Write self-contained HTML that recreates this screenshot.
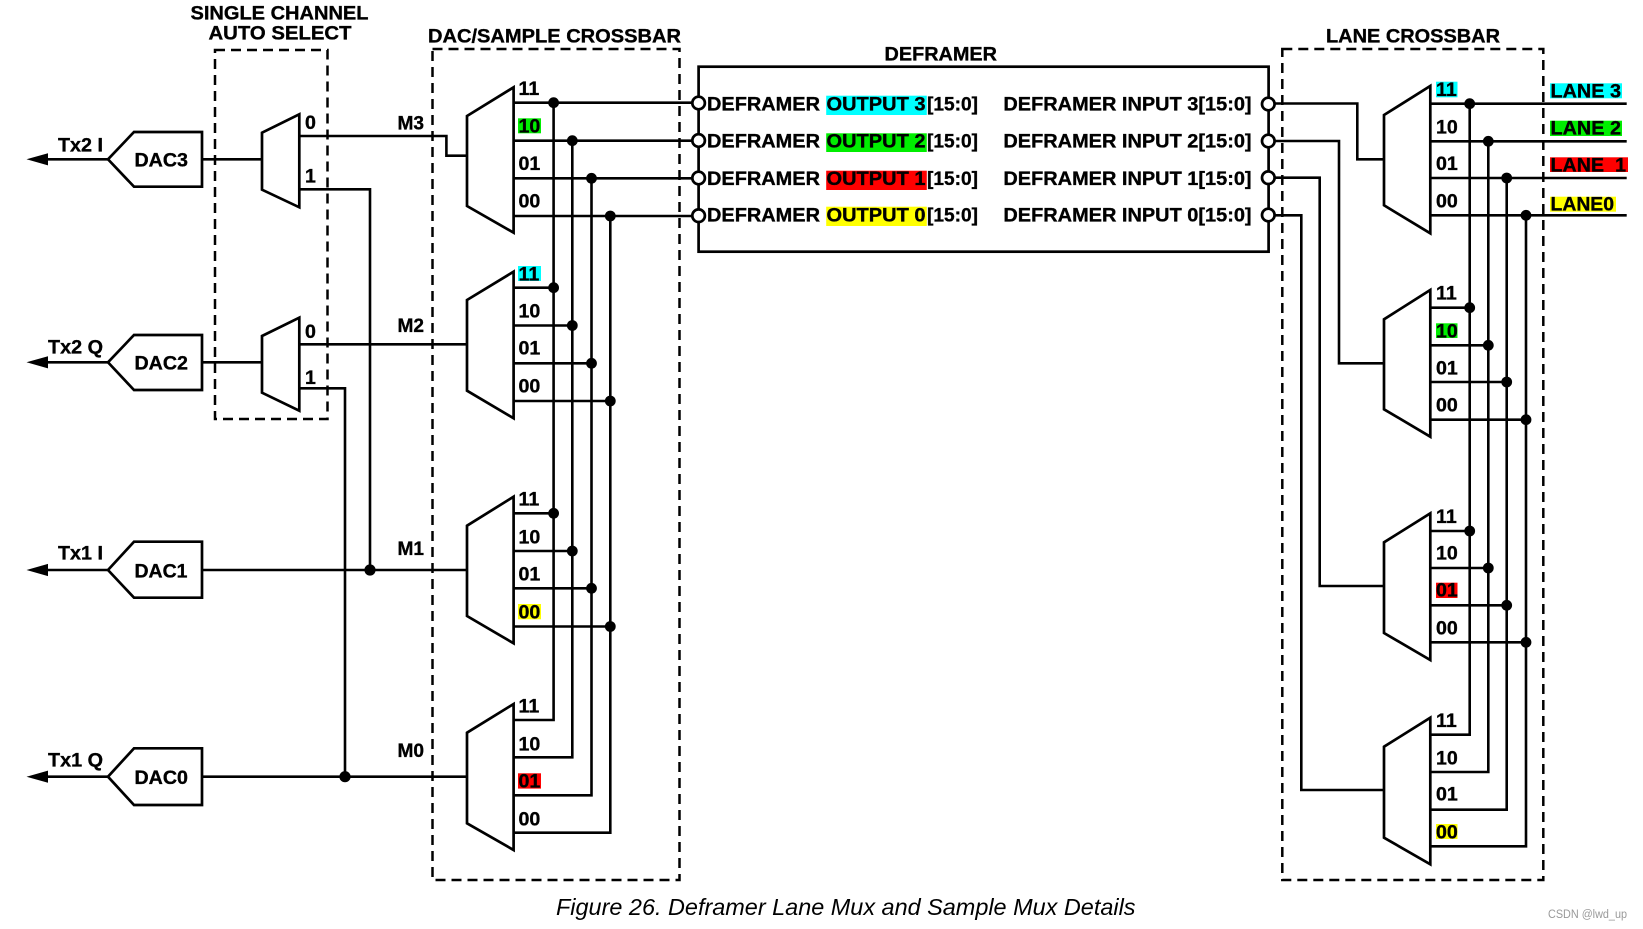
<!DOCTYPE html>
<html><head><meta charset="utf-8"><style>
html,body{margin:0;padding:0;background:#fff;width:1643px;height:929px;overflow:hidden}
svg{display:block}
text{font-family:"Liberation Sans",sans-serif;font-weight:bold;font-size:19.6px;fill:#000;stroke:#000;stroke-width:.35}
.w{fill:none;stroke:#000;stroke-width:2.6}
.m{fill:#fff;stroke:#000;stroke-width:2.7}
.d{fill:none;stroke:#000;stroke-width:2.5;stroke-dasharray:10 6}
.p{fill:#fff;stroke:#000;stroke-width:2.7}
.cap{font-weight:normal;font-style:italic;font-size:23.5px;stroke:none}
.wm{font-weight:normal;font-size:11.5px;fill:#999;stroke:none}
.c{fill:#00ffff}.g{fill:#00ee00}.r{fill:#ff0000}.y{fill:#ffff00}
</style></head><body>
<svg width="1643" height="929" viewBox="0 0 1643 929" xmlns="http://www.w3.org/2000/svg">
<rect width="1643" height="929" fill="#fff"/>

<!-- dashed groups -->
<rect class="d" x="215" y="50" width="112.5" height="369"/>
<rect class="d" x="432.5" y="49" width="247" height="831"/>
<rect class="d" x="1282.3" y="49" width="261" height="831"/>

<!-- highlights -->
<rect class="g" x="518" y="118.3" width="23" height="15"/>
<rect class="c" x="518" y="266" width="23" height="15"/>
<rect class="y" x="518" y="604" width="23" height="15.3"/>
<rect class="r" x="518" y="773.3" width="23" height="15.3"/>
<rect class="c" x="1436" y="81.7" width="21.5" height="15.6"/>
<rect class="g" x="1436" y="323.3" width="21.5" height="14.7"/>
<rect class="r" x="1436" y="582.7" width="21.5" height="15.3"/>
<rect class="y" x="1436" y="824" width="21.5" height="15"/>
<rect class="c" x="1550" y="83.3" width="72" height="15"/>
<rect class="g" x="1550" y="120.7" width="72" height="15.3"/>
<rect class="r" x="1550" y="157.3" width="78" height="14.7"/>
<rect class="y" x="1550" y="196.7" width="66" height="15"/>

<!-- left wires -->
<path class="w" d="M48 159.3H108M202 159.3H262M48 362.3H108M202 362.3H262M48 570H108M202 570H467M48 776.7H108M202 776.7H467"/>
<path class="w" d="M299.3 136H446.4V155.7H467M299.3 189.3H370V570M299.3 344.3H467M299.3 388.3H345V776.7"/>

<!-- DAC crossbar wires -->
<path class="w" d="M513.6 102.7H692M513.6 140.7H692M513.6 178.3H692M513.6 216H692"/>
<path class="w" d="M513.6 287.7H553.6M513.6 325.5H572.3M513.6 363.3H591.5M513.6 401H610.3"/>
<path class="w" d="M513.6 513.3H553.6M513.6 551H572.3M513.6 588.3H591.5M513.6 626.5H610.3"/>
<path class="w" d="M553.6 102.7V720H513.6M572.3 140.7V757.3H513.6M591.5 178.3V795.3H513.6M610.3 216V832.7H513.6"/>

<!-- Lane crossbar wires -->
<path class="w" d="M1275 103.5H1357.3V159.3H1384M1275 141H1339V363.3H1384M1275 177.7H1319.7V586H1384M1275 215.3H1301.3V790H1384"/>
<path class="w" d="M1430.3 103.7H1626.7M1430.3 141.3H1626.7M1430.3 178H1626.7M1430.3 215.3H1626.7"/>
<path class="w" d="M1430.3 307.7H1469.7M1430.3 345.3H1488.3M1430.3 382H1506.7M1430.3 419.7H1526"/>
<path class="w" d="M1430.3 531H1469.7M1430.3 568H1488.3M1430.3 605.3H1506.7M1430.3 642.3H1526"/>
<path class="w" d="M1469.7 103.7V734.7H1430.3M1488.3 141.3V772H1430.3M1506.7 178V809.7H1430.3M1526 215.3V846.3H1430.3"/>

<!-- arrows -->
<path d="M26.5 159.3L48 153.2V165.4Z M26.5 362.3L48 356.2V368.4Z M26.5 570L48 563.9V576.1Z M26.5 776.7L48 770.6V782.8Z" fill="#000"/>

<!-- DAC pentagons -->
<path class="m" d="M108 159.3L134 132H202V186.7H134Z"/>
<path class="m" d="M108 362.3L134 335H202V390H134Z"/>
<path class="m" d="M108 570L134 541.7H202V597.7H134Z"/>
<path class="m" d="M108 776.7L134 748.3H202V805H134Z"/>

<!-- small muxes -->
<path class="m" d="M262 132.7L299.3 114.3V207.3L262 189.7Z"/>
<path class="m" d="M262 336L299.3 317.7V410.7L262 392.7Z"/>

<!-- DAC muxes -->
<path class="m" d="M467 116L513.6 87.3V232.7L467 206Z"/>
<path class="m" d="M467 300L513.6 271.7V418.3L467 390.7Z"/>
<path class="m" d="M467 525.7L513.6 496.7V643.3L467 616Z"/>
<path class="m" d="M467 732.7L513.6 704V850L467 823.3Z"/>

<!-- Lane muxes -->
<path class="m" d="M1384 115L1430.3 86V233.3L1384 205.3Z"/>
<path class="m" d="M1384 319.3L1430.3 290V436.7L1384 409.3Z"/>
<path class="m" d="M1384 542.3L1430.3 513.3V660L1384 633Z"/>
<path class="m" d="M1384 746.7L1430.3 717.7V864.3L1384 837.7Z"/>

<!-- dots -->
<g fill="#000">
<circle cx="370" cy="570" r="5.6"/><circle cx="345" cy="776.7" r="5.6"/>
<circle cx="553.6" cy="102.7" r="5.4"/><circle cx="572.3" cy="140.7" r="5.4"/><circle cx="591.5" cy="178.3" r="5.4"/><circle cx="610.3" cy="216" r="5.4"/>
<circle cx="553.6" cy="287.7" r="5.4"/><circle cx="572.3" cy="325.5" r="5.4"/><circle cx="591.5" cy="363.3" r="5.4"/><circle cx="610.3" cy="401" r="5.4"/>
<circle cx="553.6" cy="513.3" r="5.4"/><circle cx="572.3" cy="551" r="5.4"/><circle cx="591.5" cy="588.3" r="5.4"/><circle cx="610.3" cy="626.5" r="5.4"/>
<circle cx="1469.7" cy="103.7" r="5.4"/><circle cx="1488.3" cy="141.3" r="5.4"/><circle cx="1506.7" cy="178" r="5.4"/><circle cx="1526" cy="215.3" r="5.4"/>
<circle cx="1469.7" cy="307.7" r="5.4"/><circle cx="1488.3" cy="345.3" r="5.4"/><circle cx="1506.7" cy="382" r="5.4"/><circle cx="1526" cy="419.7" r="5.4"/>
<circle cx="1469.7" cy="531" r="5.4"/><circle cx="1488.3" cy="568" r="5.4"/><circle cx="1506.7" cy="605.3" r="5.4"/><circle cx="1526" cy="642.3" r="5.4"/>
</g>

<!-- deframer -->
<rect x="698.6" y="66.7" width="570" height="185" fill="#fff" stroke="#000" stroke-width="2.7"/>
<rect class="c" x="826.2" y="95.7" width="100.6" height="19.3"/>
<rect class="g" x="826.2" y="133.3" width="100.6" height="18.7"/>
<rect class="r" x="826.2" y="170.7" width="100.6" height="19.3"/>
<rect class="y" x="826.2" y="206.7" width="100.6" height="19.3"/>
<circle class="p" cx="698.6" cy="103" r="6.3"/><circle class="p" cx="698.6" cy="140.5" r="6.3"/><circle class="p" cx="698.6" cy="178" r="6.3"/><circle class="p" cx="698.6" cy="215.7" r="6.3"/>
<circle class="p" cx="1268.3" cy="104" r="6.3"/><circle class="p" cx="1268.3" cy="141" r="6.3"/><circle class="p" cx="1268.3" cy="177.7" r="6.3"/><circle class="p" cx="1268.3" cy="215" r="6.3"/>

<!-- titles -->
<text x="190.5" y="19.5" textLength="178" lengthAdjust="spacingAndGlyphs">SINGLE CHANNEL</text>
<text x="208.5" y="39.5" textLength="143" lengthAdjust="spacingAndGlyphs">AUTO SELECT</text>
<text x="428" y="42.7" textLength="253" lengthAdjust="spacingAndGlyphs">DAC/SAMPLE CROSSBAR</text>
<text x="884.5" y="60.7" textLength="112.5" lengthAdjust="spacingAndGlyphs">DEFRAMER</text>
<text x="1326" y="42.7" textLength="174" lengthAdjust="spacingAndGlyphs">LANE CROSSBAR</text>

<!-- DAC labels -->
<text x="134.5" y="166.5" textLength="53.5" lengthAdjust="spacingAndGlyphs">DAC3</text>
<text x="134.5" y="369.5" textLength="53.5" lengthAdjust="spacingAndGlyphs">DAC2</text>
<text x="134.5" y="577.5" textLength="53" lengthAdjust="spacingAndGlyphs">DAC1</text>
<text x="134.5" y="784.2" textLength="53.5" lengthAdjust="spacingAndGlyphs">DAC0</text>
<text x="58" y="151.7" textLength="45" lengthAdjust="spacingAndGlyphs">Tx2 I</text>
<text x="48" y="353.5" textLength="55" lengthAdjust="spacingAndGlyphs">Tx2 Q</text>
<text x="58" y="559.5" textLength="45" lengthAdjust="spacingAndGlyphs">Tx1 I</text>
<text x="48" y="766.5" textLength="55" lengthAdjust="spacingAndGlyphs">Tx1 Q</text>

<!-- small mux labels -->
<text x="305" y="129">0</text><text x="305" y="182.7">1</text>
<text x="305" y="338">0</text><text x="305" y="384">1</text>

<text x="397.5" y="129.5" textLength="26.5" lengthAdjust="spacingAndGlyphs">M3</text>
<text x="397.5" y="332" textLength="26.5" lengthAdjust="spacingAndGlyphs">M2</text>
<text x="397.5" y="555" textLength="26.5" lengthAdjust="spacingAndGlyphs">M1</text>
<text x="397.5" y="757" textLength="26.5" lengthAdjust="spacingAndGlyphs">M0</text>

<!-- DAC mux labels -->
<text x="518.5" y="95">11</text><text x="518.5" y="132.5">10</text><text x="518.5" y="170">01</text><text x="518.5" y="207.3">00</text>
<text x="518.5" y="280.7">11</text><text x="518.5" y="317.3">10</text><text x="518.5" y="354.3">01</text><text x="518.5" y="392.3">00</text>
<text x="518.5" y="505.3">11</text><text x="518.5" y="543.3">10</text><text x="518.5" y="580.7">01</text><text x="518.5" y="618.3">00</text>
<text x="518.5" y="712.7">11</text><text x="518.5" y="750.7">10</text><text x="518.5" y="787.7">01</text><text x="518.5" y="825.3">00</text>

<!-- Lane mux labels -->
<text x="1436" y="96">11</text><text x="1436" y="133.5">10</text><text x="1436" y="170">01</text><text x="1436" y="207.5">00</text>
<text x="1436" y="299.5">11</text><text x="1436" y="337.3">10</text><text x="1436" y="374.5">01</text><text x="1436" y="411.5">00</text>
<text x="1436" y="522.8">11</text><text x="1436" y="559.5">10</text><text x="1436" y="596.7">01</text><text x="1436" y="634.5">00</text>
<text x="1436" y="726.8">11</text><text x="1436" y="764.5">10</text><text x="1436" y="800.7">01</text><text x="1436" y="838.3">00</text>

<!-- Lane names -->
<text x="1550.5" y="97.3" textLength="70.5" lengthAdjust="spacingAndGlyphs">LANE 3</text>
<text x="1550.5" y="134.7" textLength="70.5" lengthAdjust="spacingAndGlyphs">LANE 2</text>
<text x="1550.5" y="171.3" textLength="75.5" lengthAdjust="spacing" xml:space="preserve">LANE  1</text>
<text x="1550.5" y="210.7" textLength="63.5" lengthAdjust="spacingAndGlyphs">LANE0</text>

<!-- Deframer rows -->
<text x="707" y="110.7" textLength="113" lengthAdjust="spacingAndGlyphs">DEFRAMER</text>
<text x="826.5" y="110.7" textLength="99" lengthAdjust="spacingAndGlyphs">OUTPUT 3</text>
<text x="927" y="110.7" textLength="51" lengthAdjust="spacingAndGlyphs">[15:0]</text>
<text x="1003.4" y="110.7" textLength="248.2" lengthAdjust="spacingAndGlyphs">DEFRAMER INPUT 3[15:0]</text>

<text x="707" y="147.7" textLength="113" lengthAdjust="spacingAndGlyphs">DEFRAMER</text>
<text x="826.5" y="147.7" textLength="99" lengthAdjust="spacingAndGlyphs">OUTPUT 2</text>
<text x="927" y="147.7" textLength="51" lengthAdjust="spacingAndGlyphs">[15:0]</text>
<text x="1003.4" y="147.7" textLength="248.2" lengthAdjust="spacingAndGlyphs">DEFRAMER INPUT 2[15:0]</text>

<text x="707" y="185" textLength="113" lengthAdjust="spacingAndGlyphs">DEFRAMER</text>
<text x="826.5" y="185" textLength="99" lengthAdjust="spacingAndGlyphs">OUTPUT 1</text>
<text x="927" y="185" textLength="51" lengthAdjust="spacingAndGlyphs">[15:0]</text>
<text x="1003.4" y="185" textLength="248.2" lengthAdjust="spacingAndGlyphs">DEFRAMER INPUT 1[15:0]</text>

<text x="707" y="221.7" textLength="113" lengthAdjust="spacingAndGlyphs">DEFRAMER</text>
<text x="826.5" y="221.7" textLength="99" lengthAdjust="spacingAndGlyphs">OUTPUT 0</text>
<text x="927" y="221.7" textLength="51" lengthAdjust="spacingAndGlyphs">[15:0]</text>
<text x="1003.4" y="221.7" textLength="248.2" lengthAdjust="spacingAndGlyphs">DEFRAMER INPUT 0[15:0]</text>

<!-- caption -->
<text class="cap" x="556" y="915" textLength="579.5" lengthAdjust="spacingAndGlyphs">Figure 26. Deframer Lane Mux and Sample Mux Details</text>
<text class="wm" x="1548" y="918" textLength="79" lengthAdjust="spacingAndGlyphs">CSDN @lwd_up</text>
</svg>
</body></html>
